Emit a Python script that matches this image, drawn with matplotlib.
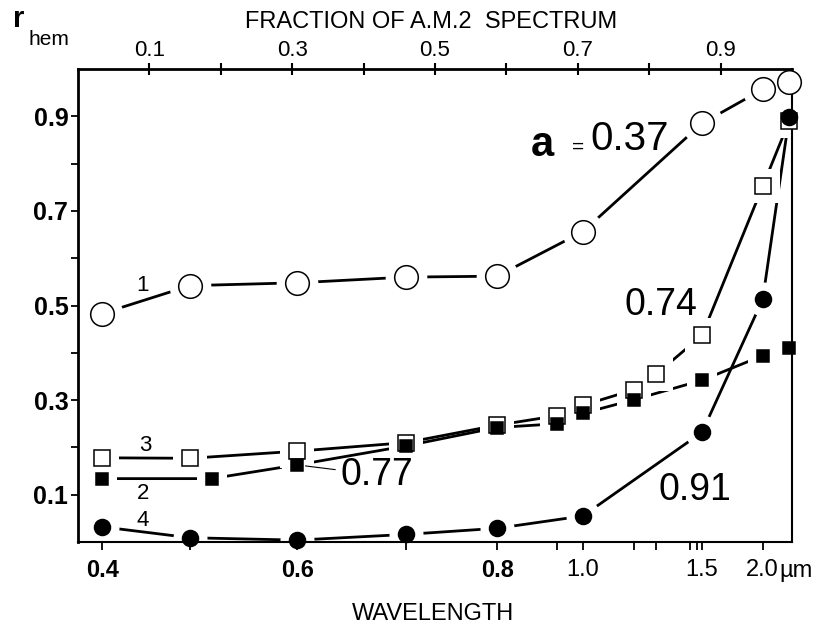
import numpy as np
import matplotlib

matplotlib.use("Agg")
import matplotlib.pyplot as plt
from matplotlib.ticker import FixedLocator, FixedFormatter, NullFormatter

plt.rcParams["font.family"] = ["Liberation Sans", "DejaVu Sans"]

# wavelength (um) -> cumulative fraction of the A.M.2 spectrum
CAL_WL = [0.30, 0.40, 0.50, 0.60, 0.70, 0.80, 0.90, 1.00, 1.10, 1.20, 1.30, 1.40, 1.50, 2.00, 2.50, 2.60]
CAL_FRAC = [0.000, 0.034, 0.157, 0.307, 0.459, 0.587, 0.671, 0.707, 0.779, 0.810, 0.857, 0.867, 0.874, 0.959, 0.996, 1.000]

# curve 1, a = 0.37 (open circles)
wl_1 = [0.4, 0.5, 0.6, 0.7, 0.8, 1.0, 1.5, 2.0, 2.5]
r_1 = [0.483, 0.542, 0.548, 0.560, 0.562, 0.656, 0.885, 0.957, 0.973]

# curve 2, a = 0.77 (filled squares)
wl_2 = [0.4, 0.52, 0.6, 0.7, 0.8, 0.9, 1.0, 1.1, 1.5, 2.0, 2.5]
r_2 = [0.134, 0.134, 0.163, 0.203, 0.242, 0.250, 0.272, 0.301, 0.342, 0.394, 0.410]

# curve 3, a = 0.74 (open squares)
wl_3 = [0.4, 0.5, 0.6, 0.7, 0.8, 0.9, 1.0, 1.1, 1.2, 1.5, 2.0, 2.5]
r_3 = [0.178, 0.177, 0.192, 0.210, 0.247, 0.267, 0.289, 0.322, 0.355, 0.437, 0.752, 0.890]

# curve 4, a = 0.91 (filled circles)
wl_4 = [0.4, 0.5, 0.6, 0.7, 0.8, 1.0, 1.5, 2.0, 2.5]
r_4 = [0.032, 0.009, 0.004, 0.016, 0.029, 0.055, 0.232, 0.513, 0.898]

wl_major = [0.4, 0.6, 0.8, 1.0, 1.5, 2.0]
wl_minor = [0.5, 0.7, 0.9, 1.1, 1.2, 1.3, 1.4]
frac_major = [0.1, 0.3, 0.5, 0.7, 0.9]
frac_minor = [0.2, 0.4, 0.6, 0.8]
r_major = [0.1, 0.3, 0.5, 0.7, 0.9]
r_minor = [0.2, 0.4, 0.6, 0.8]


def to_frac(w):
    return np.interp(w, CAL_WL, CAL_FRAC)


def to_wl(f):
    return np.interp(f, CAL_FRAC, CAL_WL)


fig = plt.figure(figsize=(8.27, 6.30), dpi=100)
ax = fig.add_axes([78 / 827, 1 - 542 / 630, 714 / 827, 473 / 630])
ax.set_xscale("function", functions=(to_frac, to_wl))
ax.set_xlim(CAL_WL[0], CAL_WL[-1])
ax.set_ylim(0, 1.0)
ax.set_axisbelow(False)

series = [
    (wl_1, r_1, "o", 17, "white"),
    (wl_3, r_3, "s", 12, "white"),
    (wl_2, r_2, "s", 9, "black"),
    (wl_4, r_4, "o", 11.5, "black"),
]
for wl, r, mk, ms, face in series:
    ax.plot(wl, r, color="black", lw=2.0, zorder=1, clip_on=False)
for wl, r, mk, ms, face in series:
    # white halo so the curves stop short of the symbols
    ax.plot(wl, r, ls="none", marker=mk, ms=ms + 13, mfc="white", mec="white",
            mew=0, zorder=1.5, clip_on=False)
for wl, r, mk, ms, face in series:
    ax.plot(wl, r, ls="none", marker=mk, ms=ms, mfc=face, mec="black",
            mew=1.1, zorder=3, clip_on=False)

# bottom axis: wavelength
ax.xaxis.set_major_locator(FixedLocator(wl_major))
ax.xaxis.set_major_formatter(FixedFormatter([f"{w:.1f}" for w in wl_major]))
ax.xaxis.set_minor_locator(FixedLocator(wl_minor))
ax.xaxis.set_minor_formatter(NullFormatter())
ax.tick_params(axis="x", which="both", direction="out", length=6, width=1.3,
               labelsize=17, pad=6, top=False)

ax.yaxis.set_major_locator(FixedLocator(r_major))
ax.yaxis.set_major_formatter(FixedFormatter([f"{v:.1f}" for v in r_major]))
ax.yaxis.set_minor_locator(FixedLocator(r_minor))
ax.tick_params(axis="y", which="both", direction="out", length=5, width=1.3,
               labelsize=18, pad=2)
for lab in ax.get_yticklabels():
    lab.set_fontweight("bold")
for lab in ax.get_xticklabels()[:3]:
    lab.set_fontweight("bold")

for side in ["left", "top"]:
    ax.spines[side].set_linewidth(2.0)
for side in ["right", "bottom"]:
    ax.spines[side].set_linewidth(1.5)

# top axis: fraction of A.M.2 spectrum
top = ax.twiny()
top.set_xlim(0, 1)
top.xaxis.set_major_locator(FixedLocator(frac_major))
top.xaxis.set_major_formatter(FixedFormatter([f"{v:.1f}" for v in frac_major]))
top.xaxis.set_minor_locator(FixedLocator(frac_minor))
top.xaxis.set_minor_formatter(NullFormatter())
top.tick_params(axis="x", which="both", direction="inout", length=9, width=1.5,
                labelsize=16, pad=1)
for sp in top.spines.values():
    sp.set_visible(False)

# curve labels
ax.text(0.651, 0.840, "a", transform=ax.transAxes, ha="center", va="center",
        fontsize=30, fontweight="bold")
ax.text(0.700, 0.835, "=", transform=ax.transAxes, ha="center", va="center",
        fontsize=15)
ax.text(0.773, 0.851, "0.37", transform=ax.transAxes, ha="center", va="center",
        fontsize=29)
ax.text(0.817, 0.502, "0.74", transform=ax.transAxes, ha="center", va="center",
        fontsize=27)
ax.text(0.864, 0.109, "0.91", transform=ax.transAxes, ha="center", va="center",
        fontsize=27)
ax.annotate("0.77", xy=(wl_2[2], r_2[2]), xytext=(0.419, 0.142),
            textcoords="axes fraction", ha="center", va="center", fontsize=27,
            arrowprops=dict(arrowstyle="-", lw=0.8, color="black",
                            shrinkA=2, shrinkB=6))
for num, xa, ya in [("1", 0.091, 0.543), ("3", 0.094, 0.203),
                    ("2", 0.091, 0.103), ("4", 0.091, 0.046)]:
    ax.text(xa, ya, num, transform=ax.transAxes, ha="center", va="center",
            fontsize=16)

# axis titles
fig.text(13 / 827, 1 - 27 / 630, "r", fontsize=21, fontweight="bold",
         ha="left", va="baseline")
fig.text(28 / 827, 1 - 45 / 630, "hem", fontsize=15, ha="left", va="baseline")
fig.text(431 / 827, 1 - 28 / 630, "FRACTION OF A.M.2  SPECTRUM", fontsize=17,
         ha="center", va="baseline")
fig.text(433 / 827, 1 - 620 / 630, "WAVELENGTH", fontsize=17,
         ha="center", va="baseline")
fig.text(779 / 827, 1 - 577 / 630, "\u00b5m", fontsize=17,
         ha="left", va="baseline")

fig.savefig("out.png", dpi=100)
